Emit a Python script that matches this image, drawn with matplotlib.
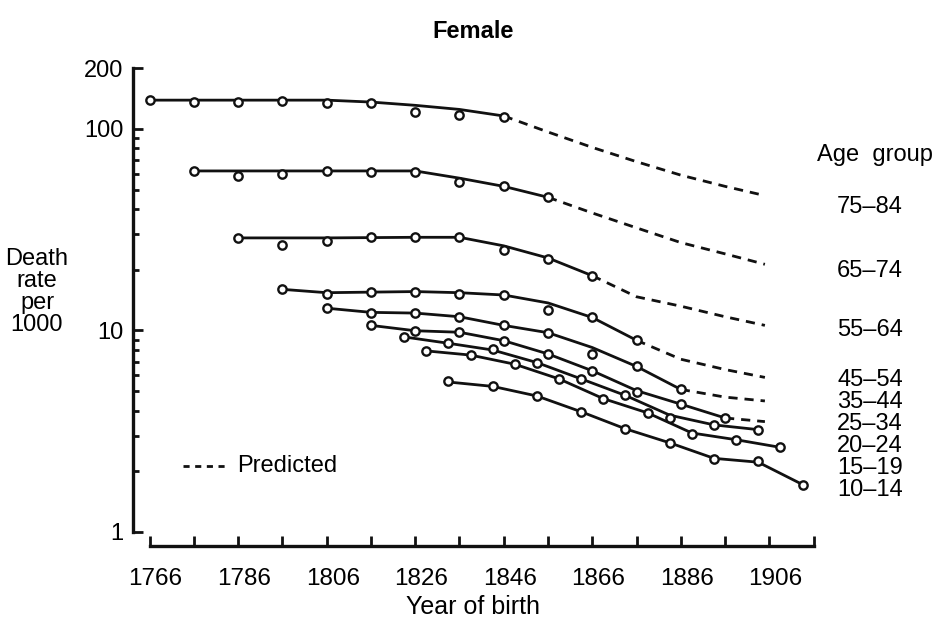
import matplotlib.pyplot as plt
from matplotlib.ticker import FixedLocator, NullFormatter
from matplotlib.transforms import ScaledTranslation

plt.rcParams['font.family'] = ['Liberation Sans']

# observed rates (circles), fitted curve (solid) and predicted curve (dashed)
yrs_75_84 = [1766, 1776, 1786, 1796, 1806, 1816, 1826, 1836, 1846]
obs_75_84 = [139, 136, 136, 137, 134, 135, 122, 117, 115]
fit_75_84 = [139, 139, 139, 139, 139, 136, 131, 125, 116]
pyrs_75_84 = [1846, 1856, 1866, 1876, 1886, 1896, 1905]
pred_75_84 = [116, 96.6, 81.0, 68.8, 59.0, 51.9, 46.7]

yrs_65_74 = [1776, 1786, 1796, 1806, 1816, 1826, 1836, 1846, 1856]
obs_65_74 = [61.9, 58.6, 59.7, 61.9, 61.4, 61.4, 54.6, 51.9, 45.8]
fit_65_74 = [61.9, 61.9, 61.9, 61.9, 61.9, 61.9, 57.0, 51.9, 45.8]
pyrs_65_74 = [1856, 1866, 1876, 1886, 1896, 1905]
pred_65_74 = [45.8, 38.3, 32.3, 27.3, 24.0, 21.3]

yrs_55_64 = [1786, 1796, 1806, 1816, 1826, 1836, 1846, 1856, 1866]
obs_55_64 = [28.7, 26.7, 27.8, 29.0, 29.0, 29.0, 25.0, 22.7, 18.7]
fit_55_64 = [28.8, 28.8, 28.8, 28.9, 29.0, 29.0, 26.3, 22.9, 18.7]
pyrs_55_64 = [1866, 1876, 1886, 1896, 1905]
pred_55_64 = [18.7, 14.7, 13.2, 11.7, 10.6]

yrs_45_54 = [1796, 1806, 1816, 1826, 1836, 1846, 1856, 1866, 1876]
obs_45_54 = [16.0, 15.2, 15.5, 15.5, 15.1, 15.0, 12.7, 11.6, 8.94]
fit_45_54 = [16.0, 15.4, 15.5, 15.6, 15.4, 15.0, 13.7, 11.6, 8.94]
pyrs_45_54 = [1876, 1886, 1896, 1905]
pred_45_54 = [8.94, 7.20, 6.40, 5.85]

yrs_35_44 = [1806, 1816, 1826, 1836, 1846, 1856, 1866, 1876, 1886]
obs_35_44 = [12.9, 12.2, 12.2, 11.7, 10.6, 9.71, 7.65, 6.63, 5.10]
fit_35_44 = [12.9, 12.3, 12.2, 11.7, 10.6, 9.75, 8.23, 6.63, 5.10]
pyrs_35_44 = [1886, 1896, 1905]
pred_35_44 = [5.10, 4.67, 4.47]

yrs_25_34 = [1816, 1826, 1836, 1846, 1856, 1866, 1876, 1886, 1896]
obs_25_34 = [10.6, 9.93, 9.82, 8.88, 7.64, 6.31, 4.95, 4.31, 3.68]
fit_25_34 = [10.6, 9.97, 9.80, 8.90, 7.65, 6.31, 5.03, 4.31, 3.68]
pyrs_25_34 = [1896, 1905]
pred_25_34 = [3.68, 3.53]

yrs_20_24 = [1823.5, 1833.5, 1843.5, 1853.5, 1863.5, 1873.5, 1883.5, 1893.5, 1903.5]
obs_20_24 = [9.29, 8.64, 8.08, 6.93, 5.75, 4.76, 3.67, 3.40, 3.22]
fit_20_24 = [9.29, 8.64, 8.00, 6.93, 5.75, 4.76, 3.80, 3.40, 3.22]

yrs_15_19 = [1828.5, 1838.5, 1848.5, 1858.5, 1868.5, 1878.5, 1888.5, 1898.5, 1908.5]
obs_15_19 = [7.92, 7.55, 6.80, 5.73, 4.59, 3.90, 3.05, 2.87, 2.63]
fit_15_19 = [7.92, 7.55, 6.80, 5.75, 4.59, 3.90, 3.10, 2.87, 2.63]

yrs_10_14 = [1833.5, 1843.5, 1853.5, 1863.5, 1873.5, 1883.5, 1893.5, 1903.5, 1913.5]
obs_10_14 = [5.59, 5.28, 4.73, 3.92, 3.25, 2.77, 2.30, 2.24, 1.72]
fit_10_14 = [5.55, 5.28, 4.73, 3.95, 3.25, 2.77, 2.32, 2.22, 1.72]

observed = [
    (yrs_75_84, obs_75_84, fit_75_84), (yrs_65_74, obs_65_74, fit_65_74),
    (yrs_55_64, obs_55_64, fit_55_64), (yrs_45_54, obs_45_54, fit_45_54),
    (yrs_35_44, obs_35_44, fit_35_44), (yrs_25_34, obs_25_34, fit_25_34),
    (yrs_20_24, obs_20_24, fit_20_24), (yrs_15_19, obs_15_19, fit_15_19),
    (yrs_10_14, obs_10_14, fit_10_14),
]
predicted = [
    (pyrs_75_84, pred_75_84), (pyrs_65_74, pred_65_74), (pyrs_55_64, pred_55_64),
    (pyrs_45_54, pred_45_54), (pyrs_35_44, pred_35_44), (pyrs_25_34, pred_25_34),
]

upper_labels = ['75–84', '65–74', '55–64']
upper_ypix = [207, 271, 330]
lower_labels = ['45–54', '35–44', '25–34', '20–24', '15–19', '10–14']

W, H = 942, 619
fig = plt.figure(figsize=(W / 100, H / 100), dpi=100)
ax = fig.add_axes([133 / W, 1 - 532 / H, (813.6 - 133) / W, (532 - 68.3) / H])

ink = '#111111'
fs = 17
for yrs, obs, fit in observed:
    ax.plot(yrs, fit, color=ink, lw=2.0, solid_joinstyle='round', solid_capstyle='round', zorder=2)
    ax.plot(yrs, obs, linestyle='none', marker='o', ms=6, mfc='white', mec=ink, mew=1.7, zorder=3)
for yrs, pred in predicted:
    ax.plot(yrs, pred, color=ink, lw=2.0, dashes=(3.3, 2.5), zorder=2)

ax.set_yscale('log')
ax.set_ylim(1, 200)
ax.set_xlim(1762.25, 1916)

for s in ['top', 'right']:
    ax.spines[s].set_visible(False)
ax.spines['left'].set_bounds(1, 200)
ax.spines['bottom'].set_bounds(1766, 1916)
ax.spines['bottom'].set_position(('outward', 10))
for s in ['left', 'bottom']:
    ax.spines[s].set_linewidth(2.4)
    ax.spines[s].set_color(ink)

ax.yaxis.set_major_locator(FixedLocator([1, 10, 100, 200]))
ax.yaxis.set_minor_locator(FixedLocator([2, 3, 4, 5, 6, 7, 8, 9, 20, 30, 40, 50, 60, 70, 80, 90]))
ax.yaxis.set_minor_formatter(NullFormatter())
ax.set_yticklabels(['1', '10', '100', '200'])
ax.xaxis.set_major_locator(FixedLocator(list(range(1766, 1907, 20))))
ax.xaxis.set_minor_locator(FixedLocator(list(range(1776, 1917, 20))))
ax.tick_params(axis='both', which='both', direction='in', color=ink, width=2.0, labelsize=fs)
ax.tick_params(axis='y', which='major', length=7, pad=7)
ax.tick_params(axis='y', which='minor', length=4.5)
ax.tick_params(axis='x', which='both', length=7, pad=16, labelsize=17.5)
for lab in ax.get_xticklabels():
    lab.set_transform(lab.get_transform() + ScaledTranslation(6 / 100, 0, fig.dpi_scale_trans))

# legend for the dashed line
fig.add_artist(plt.Line2D([183 / W, 225 / W], [1 - 466 / H, 1 - 466 / H], color=ink, lw=2.0, dashes=(2.2, 2.0)))
fig.text(237 / W, 1 - 466 / H, 'Predicted', fontsize=fs, va='center', ha='left')

fig.text(473 / W, 1 - 32 / H, 'Female', fontsize=fs, fontweight='bold', ha='center', va='center')
fig.text(473 / W, 1 - 607 / H, 'Year of birth', fontsize=18, ha='center', va='center')
fig.text(37 / W, 1 - 292 / H, 'Death\nrate\nper\n1000', fontsize=fs, ha='center', va='center', linespacing=0.99)

fig.text(875 / W, 1 - 155 / H, 'Age  group', fontsize=fs, ha='center', va='center')
for lab, yp in zip(upper_labels, upper_ypix):
    fig.text(870 / W, 1 - yp / H, lab, fontsize=fs, ha='center', va='center')
fig.text(870 / W, 1 - 435 / H, '\n'.join(lower_labels), fontsize=fs, ha='center', va='center', linespacing=0.99)

fig.savefig('out.png', dpi=100)
